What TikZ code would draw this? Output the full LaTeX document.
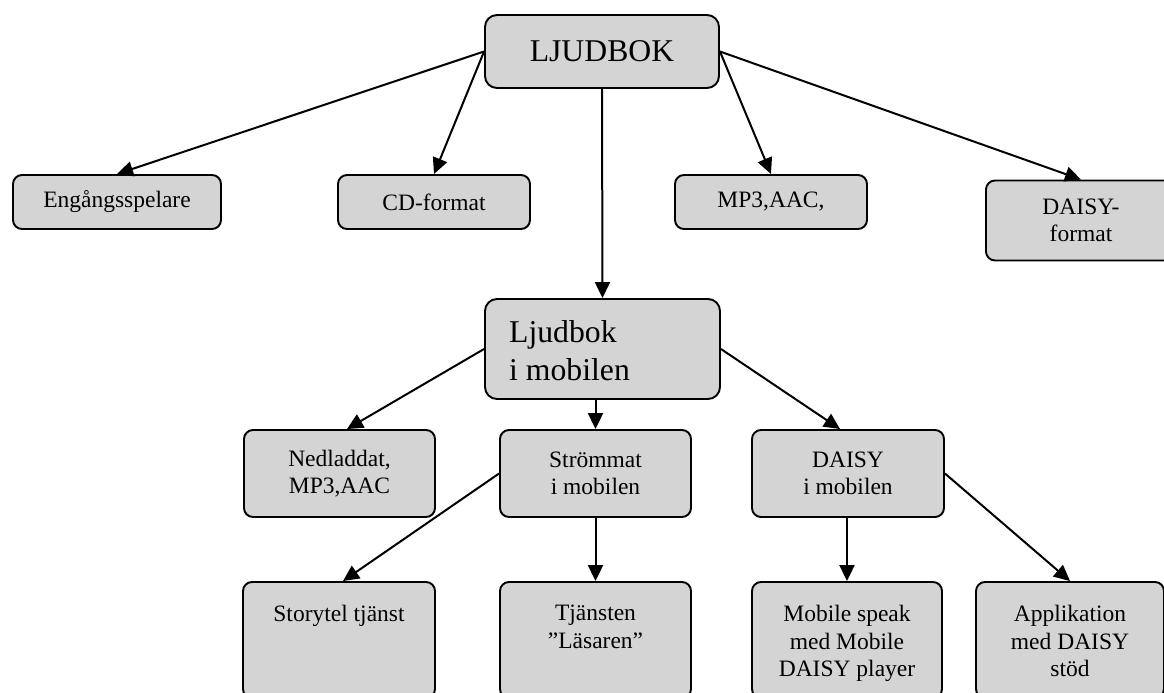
\documentclass[tikz,border=0pt]{standalone}
\usepackage{fontspec}
\setmainfont{Liberation Serif}
\usetikzlibrary{arrows.meta}
\definecolor{boxgray}{RGB}{212,212,212}
\tikzset{
  box/.style={draw=black, line width=1.9pt, fill=boxgray, rounded corners=9pt, inner sep=0pt},
  sm/.style={font=\fontsize{23.5}{27.5}\selectfont, align=center, inner sep=0pt},
  lg/.style={font=\fontsize{31.7}{38}\selectfont, inner sep=0pt},
  arr/.style={line width=2pt, -{Triangle[length=16pt,width=15pt]}}
}
\begin{document}
\begin{tikzpicture}[x=1pt,y=-1pt]
\clip (0,0) rectangle (1164,693);
\fill[white] (0,0) rectangle (1164,693);
% top level
\node[box, rounded corners=12pt, minimum width=234pt, minimum height=73pt, lg] (ljud) at (602,51.5) {LJUDBOK};
\node[box, minimum width=208pt, minimum height=54pt, sm] (eng) at (117,202) {Engångsspelare};
\node[box, minimum width=192pt, minimum height=54pt, sm] (cd) at (434,202) {CD-format};
\node[box, minimum width=192pt, minimum height=54pt, sm] (mp3) at (771,202) {MP3,AAC,};
\node[box, minimum width=190pt, minimum height=80pt, sm] (dfmt) at (1081,220.5) {DAISY-\\format};
% middle
\node[box, rounded corners=12pt, minimum width=235pt, minimum height=100pt] (mob) at (602.5,349) {};
\node[lg, anchor=west, align=left] (mobt) at (509,351) {Ljudbok\\i mobilen};
\node[box, minimum width=191pt, minimum height=87pt, sm] (ned) at (339.5,473.5) {Nedladdat,\\MP3,AAC};
\node[box, minimum width=191pt, minimum height=87pt, sm] (strom) at (595.5,473.5) {Strömmat\\i mobilen};
\node[box, minimum width=192pt, minimum height=87pt, sm] (dm) at (848,473.5) {DAISY\\i mobilen};
% bottom
\node[box, minimum width=192pt, minimum height=116pt] (story) at (339,640) {};
\node[box, minimum width=191pt, minimum height=116pt] (tj) at (595.5,640) {};
\node[box, minimum width=190pt, minimum height=116pt] (ms) at (847,640) {};
\node[box, minimum width=188pt, minimum height=116pt] (app) at (1070,640) {};
\node[sm, anchor=north] (storyt) at (339,605) {Storytel tjänst};
\node[sm, anchor=north] (tjt) at (595.5,605) {Tjänsten\\”Läsaren”};
\node[sm, anchor=north] (mst) at (847,605) {Mobile speak\\med Mobile\\DAISY player};
\node[sm, anchor=north] (appt) at (1070,605) {Applikation\\med DAISY\\stöd};
% connectors
\draw[arr] (ljud.west) -- (eng.north);
\draw[arr] (ljud.west) -- (cd.north);
\draw[arr] (ljud.east) -- (mp3.north);
\draw[arr] (ljud.east) -- (dfmt.north);
\draw[arr] (ljud.south) -- (mob.north);
\draw[arr] (mob.west) -- ([xshift=7.5pt]ned.north);
\draw[arr] (strom.north |- mob.south) -- (strom.north);
\draw[arr] (mob.east) -- ([xshift=-8pt]dm.north);
\draw[arr] (strom.west) -- ([xshift=4pt]story.north);
\draw[arr] (strom.south) -- (tj.north);
\draw[arr] (ms.north |- dm.south) -- (ms.north);
\draw[arr] (dm.east) -- (app.north);
\end{tikzpicture}
\end{document}
